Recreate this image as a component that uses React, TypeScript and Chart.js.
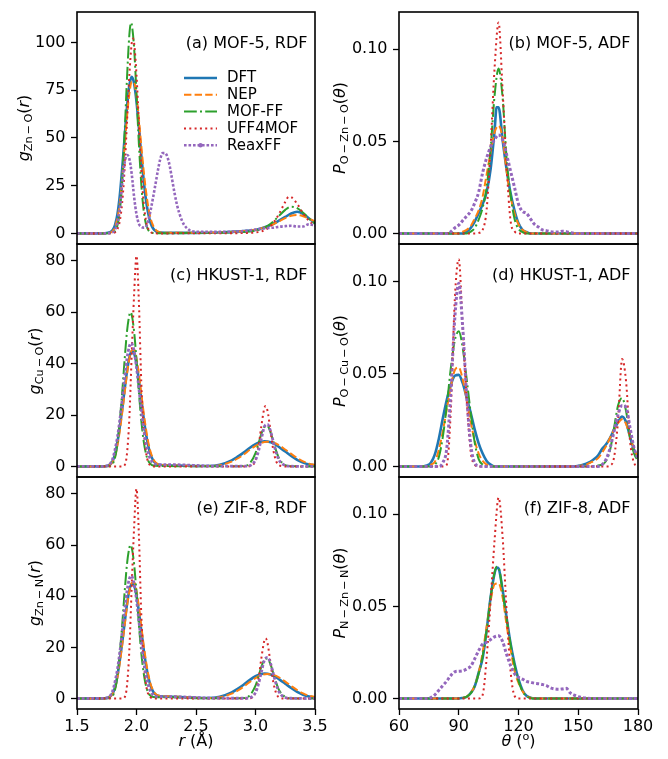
import React, { useEffect, useRef } from "react";
import { Chart, registerables } from "chart.js";

Chart.register(...registerables);

const FONT = '"DejaVu Sans", "Liberation Sans", sans-serif';

const seriesNames = ["DFT", "NEP", "MOF-FF", "UFF4MOF", "ReaxFF"];
const seriesColors = ["#1f77b4", "#ff7f0e", "#2ca02c", "#d62728", "#9467bd"];

type Pt = [number, number];

// ---------- (a) MOF-5 RDF, g_Zn-O(r) ----------
const aDFT: Pt[] = [[1.5,0],[1.7,0],[1.76,0.3],[1.8,1.8],[1.82,4.5],[1.84,10],[1.86,20],[1.88,34],[1.9,50],[1.92,66],[1.94,77.5],[1.96,82],[1.98,78.5],[2.0,69],[2.02,55.5],[2.04,41],[2.06,28],[2.08,17.3],[2.1,10],[2.12,5.2],[2.14,2.6],[2.16,1.3],[2.18,0.7],[2.2,0.4],[2.3,0.3],[2.5,0.3],[2.7,0.5],[2.8,0.8],[2.9,1.2],[3.0,1.8],[3.05,2.7],[3.1,3.7],[3.15,5],[3.2,6.8],[3.25,8.6],[3.3,10.4],[3.35,11.3],[3.4,10.2],[3.45,7.8],[3.5,5.5]];
const aNEP: Pt[] = [[1.5,0],[1.7,0],[1.76,0.2],[1.8,1.2],[1.82,3.5],[1.84,8],[1.86,16],[1.88,29],[1.9,45],[1.92,61],[1.94,73],[1.96,79.5],[1.98,79],[2.0,72],[2.02,60],[2.04,46],[2.06,33],[2.08,22],[2.1,13.5],[2.12,7.5],[2.14,4],[2.16,2],[2.18,0.9],[2.2,0.5],[2.3,0.3],[2.5,0.3],[2.7,0.5],[2.8,0.8],[2.9,1.2],[3.0,1.9],[3.05,2.7],[3.1,3.6],[3.15,4.8],[3.2,6.4],[3.25,8],[3.3,9.2],[3.35,9.6],[3.4,9],[3.45,7.7],[3.5,6.3]];
const aMOFFF: Pt[] = [[1.5,0],[1.7,0],[1.76,0.1],[1.8,0.4],[1.82,1.2],[1.84,4.2],[1.86,11.8],[1.88,27.4],[1.9,52],[1.92,81],[1.94,104],[1.955,110.3],[1.96,109.5],[1.98,97],[2.0,73],[2.02,47],[2.04,26],[2.06,12],[2.08,4.8],[2.1,1.6],[2.12,0.5],[2.14,0.2],[2.2,0.1],[2.5,0.2],[2.7,0.3],[2.8,0.5],[2.9,0.7],[3.0,1.4],[3.05,2.3],[3.1,3.8],[3.15,6.2],[3.2,9.3],[3.25,12.3],[3.3,14],[3.35,13.2],[3.4,10.8],[3.45,7.8],[3.5,5]];
const aUFF4MOF: Pt[] = [[1.5,0],[1.76,0],[1.8,0.15],[1.82,0.6],[1.84,2.2],[1.86,6.6],[1.88,16.3],[1.9,33.6],[1.92,58],[1.94,83],[1.96,99.7],[1.97,102],[1.98,99.7],[2.0,83],[2.02,58],[2.04,33.6],[2.06,16.3],[2.08,6.6],[2.1,2.2],[2.12,0.6],[2.14,0.15],[2.2,0],[2.5,0.05],[2.8,0.1],[2.9,0.2],[3.0,0.5],[3.05,1],[3.1,2.5],[3.15,5.5],[3.2,10.5],[3.25,16.5],[3.28,19.2],[3.3,19],[3.35,15.5],[3.4,10.5],[3.45,6.5],[3.5,4]];
const aReaxFF: Pt[] = [[1.5,0],[1.7,0],[1.76,0.1],[1.8,0.6],[1.82,2],[1.84,6],[1.86,13],[1.88,26],[1.9,37],[1.92,41],[1.94,39],[1.96,31],[1.98,19],[2.0,10],[2.02,5],[2.04,3.5],[2.06,3],[2.08,3.5],[2.1,7],[2.12,12.5],[2.14,19],[2.16,26],[2.18,33],[2.2,39],[2.22,42],[2.24,42],[2.26,40],[2.28,35],[2.3,28],[2.32,21],[2.34,15],[2.36,10.5],[2.38,7],[2.4,4.5],[2.45,1.5],[2.5,0.9],[2.6,0.8],[2.7,0.8],[2.8,0.9],[2.9,1.2],[3.0,2],[3.05,2.4],[3.1,2.8],[3.15,3],[3.2,3.5],[3.25,3.8],[3.3,4],[3.35,3.6],[3.4,3.6],[3.45,4.8],[3.5,4]];

// ---------- (c) HKUST-1 RDF, g_Cu-O(r) ----------
const cDFT: Pt[] = [[1.5,0],[1.7,0.05],[1.76,0.3],[1.8,2.2],[1.82,4.8],[1.84,9.5],[1.86,15.5],[1.88,22.4],[1.9,29.9],[1.92,37],[1.94,42.4],[1.96,44.9],[1.98,44],[2.0,40],[2.02,33.6],[2.04,26.2],[2.06,18.9],[2.08,12.6],[2.1,7.8],[2.12,4.4],[2.14,2.4],[2.16,1.3],[2.18,0.8],[2.2,0.6],[2.3,0.4],[2.4,0.3],[2.5,0.2],[2.6,0.2],[2.7,0.7],[2.8,2.4],[2.85,3.8],[2.9,5.4],[2.95,7.2],[3.0,8.7],[3.05,9.6],[3.075,9.8],[3.1,9.7],[3.15,9.0],[3.2,7.5],[3.25,5.8],[3.3,4.1],[3.35,2.6],[3.4,1.5],[3.45,0.8],[3.5,0.4]];
const cNEP: Pt[] = [[1.5,0],[1.7,0.05],[1.76,0.3],[1.8,1.8],[1.82,4],[1.84,8.2],[1.86,14],[1.88,21],[1.9,28.5],[1.92,36],[1.94,42],[1.96,45.2],[1.98,45.5],[2.0,42],[2.02,36],[2.04,28.5],[2.06,21],[2.08,14.5],[2.1,9.2],[2.12,5.4],[2.14,3],[2.16,1.6],[2.18,0.9],[2.2,0.6],[2.3,0.4],[2.4,0.3],[2.5,0.2],[2.6,0.15],[2.7,0.5],[2.8,1.9],[2.85,3.1],[2.9,4.6],[2.95,6.4],[3.0,8.0],[3.05,9.2],[3.1,9.6],[3.15,9.3],[3.2,8.2],[3.25,6.6],[3.3,4.9],[3.35,3.3],[3.4,2],[3.45,1.1],[3.5,0.6]];
const cMOFFF: Pt[] = [[1.5,0],[1.76,0.1],[1.8,1.0],[1.82,3.5],[1.84,9],[1.86,18],[1.88,29],[1.9,41.4],[1.92,52.5],[1.94,59],[1.95,60],[1.96,59],[1.98,52.5],[2.0,41.4],[2.02,29],[2.04,18],[2.06,10],[2.08,4.9],[2.1,2.1],[2.12,0.9],[2.14,0.4],[2.2,0.2],[2.5,0.1],[2.8,0.1],[2.9,0.2],[2.95,1.1],[3.0,5.2],[3.025,8.9],[3.05,12.8],[3.075,15.5],[3.1,15.8],[3.125,13.5],[3.15,9.7],[3.175,5.9],[3.2,3.0],[3.25,0.5],[3.3,0.1],[3.5,0]];
const cUFF4MOF: Pt[] = [[1.5,0],[1.88,0],[1.9,0.5],[1.92,5],[1.94,19],[1.96,44],[1.98,67],[2.0,82],[2.02,64],[2.04,33],[2.06,15],[2.08,5.5],[2.1,1.5],[2.12,0.4],[2.14,0],[2.9,0],[2.95,0.1],[3.0,2.4],[3.025,7.6],[3.05,16],[3.075,22.8],[3.085,23.5],[3.1,21.9],[3.125,14.3],[3.15,6.3],[3.175,1.9],[3.2,0.4],[3.25,0],[3.5,0]];
const cReaxFF: Pt[] = [[1.5,0],[1.7,0.05],[1.76,0.4],[1.8,3],[1.82,6.7],[1.84,11.5],[1.86,18.1],[1.88,26.1],[1.9,34.6],[1.92,42],[1.94,46.8],[1.955,48],[1.98,44.9],[2.0,38.6],[2.02,30.4],[2.04,22],[2.06,14.6],[2.08,8.9],[2.1,5],[2.12,2.6],[2.14,1.4],[2.16,0.9],[2.2,0.7],[2.3,0.7],[2.4,0.6],[2.5,0.4],[2.6,0.2],[2.8,0.1],[2.9,0.1],[2.95,0.3],[3.0,2.5],[3.025,6],[3.05,11],[3.075,15.5],[3.1,16.4],[3.125,14],[3.15,9.5],[3.175,5.2],[3.2,2.3],[3.25,0.4],[3.3,0.1],[3.5,0]];

// ---------- (e) ZIF-8 RDF, g_Zn-N(r) ----------
const eDFT: Pt[] = [[1.5,0],[1.7,0.05],[1.76,0.3],[1.8,2],[1.82,4.5],[1.84,9],[1.86,15],[1.88,22],[1.9,29.5],[1.92,36.8],[1.94,42.3],[1.96,44.9],[1.98,44.2],[2.0,40.3],[2.02,34],[2.04,26.6],[2.06,19.3],[2.08,13],[2.1,8.2],[2.12,4.8],[2.14,2.7],[2.16,1.6],[2.18,1.1],[2.2,0.9],[2.3,0.7],[2.4,0.5],[2.5,0.3],[2.6,0.2],[2.7,0.7],[2.8,2.4],[2.85,3.8],[2.9,5.4],[2.95,7.2],[3.0,8.7],[3.05,9.6],[3.075,9.8],[3.1,9.7],[3.15,9.0],[3.2,7.5],[3.25,5.8],[3.3,4.1],[3.35,2.6],[3.4,1.5],[3.45,0.8],[3.5,0.4]];
const eNEP: Pt[] = [[1.5,0],[1.7,0.05],[1.76,0.3],[1.8,1.8],[1.82,4],[1.84,8.2],[1.86,14],[1.88,21],[1.9,28.5],[1.92,36],[1.94,42],[1.96,45.2],[1.98,45.5],[2.0,42],[2.02,36],[2.04,28.5],[2.06,21],[2.08,14.5],[2.1,9.2],[2.12,5.4],[2.14,3.1],[2.16,1.8],[2.18,1.2],[2.2,1],[2.3,0.8],[2.4,0.5],[2.5,0.3],[2.6,0.15],[2.7,0.5],[2.8,1.9],[2.85,3.1],[2.9,4.6],[2.95,6.4],[3.0,8.0],[3.05,9.2],[3.1,9.6],[3.15,9.3],[3.2,8.2],[3.25,6.6],[3.3,4.9],[3.35,3.3],[3.4,2],[3.45,1.1],[3.5,0.6]];
const eMOFFF: Pt[] = [[1.5,0],[1.76,0.1],[1.8,1.0],[1.82,3.5],[1.84,9],[1.86,18],[1.88,29],[1.9,41.4],[1.92,52.5],[1.94,59],[1.95,60],[1.96,59],[1.98,52.5],[2.0,41.4],[2.02,29],[2.04,18],[2.06,10],[2.08,4.9],[2.1,2.1],[2.12,1.0],[2.14,0.6],[2.2,0.5],[2.3,0.5],[2.4,0.3],[2.5,0.1],[2.8,0.1],[2.9,0.2],[2.95,1.1],[3.0,5.0],[3.025,8.6],[3.05,12.5],[3.075,15.2],[3.1,15.6],[3.125,13.5],[3.15,9.8],[3.175,6],[3.2,3.1],[3.25,0.6],[3.3,0.1],[3.5,0]];
const eUFF4MOF: Pt[] = [[1.5,0],[1.88,0],[1.9,0.5],[1.92,5],[1.94,19],[1.96,44],[1.98,67],[2.0,82],[2.02,64],[2.04,33],[2.06,15],[2.08,5.5],[2.1,1.5],[2.12,0.4],[2.14,0],[2.9,0],[2.95,0.1],[3.0,2.4],[3.025,7.6],[3.05,16],[3.075,22.8],[3.085,23.5],[3.1,21.9],[3.125,14.3],[3.15,6.3],[3.175,1.9],[3.2,0.4],[3.25,0],[3.5,0]];
const eReaxFF: Pt[] = [[1.5,0],[1.7,0.05],[1.76,0.4],[1.8,3],[1.82,6.7],[1.84,11.5],[1.86,18.1],[1.88,26.1],[1.9,34.6],[1.92,42],[1.94,46.8],[1.955,48],[1.98,44.9],[2.0,38.6],[2.02,30.4],[2.04,22],[2.06,14.6],[2.08,8.9],[2.1,5],[2.12,2.6],[2.14,1.4],[2.16,0.9],[2.2,0.7],[2.3,0.7],[2.4,0.6],[2.5,0.4],[2.6,0.2],[2.8,0.1],[2.9,0.1],[2.95,0.3],[3.0,2.3],[3.025,5.6],[3.05,10.5],[3.075,15],[3.1,16.1],[3.125,14],[3.15,9.6],[3.175,5.4],[3.2,2.4],[3.25,0.4],[3.3,0.1],[3.5,0]];

// ---------- (b) MOF-5 ADF, P_O-Zn-O(theta) ----------
const bDFT: Pt[] = [[60,0],[92,0],[94,0.001],[96,0.003],[98,0.0065],[100,0.011],[102,0.016],[104,0.0225],[106,0.035],[108,0.056],[109,0.0685],[110,0.0685],[112,0.051],[114,0.035],[116,0.022],[118,0.0125],[120,0.0055],[122,0.002],[124,0.0008],[126,0],[180,0]];
const bNEP: Pt[] = [[60,0],[90,0],[92,0.001],[94,0.002],[96,0.004],[98,0.008],[100,0.0125],[102,0.02],[104,0.032],[106,0.044],[108,0.055],[110,0.0585],[112,0.052],[114,0.034],[116,0.02],[118,0.011],[120,0.005],[122,0.002],[124,0.0007],[126,0],[180,0]];
const bMOFFF: Pt[] = [[60,0],[94,0],[96,0.001],[98,0.003],[100,0.0075],[102,0.014],[104,0.025],[106,0.046],[108,0.075],[110,0.0895],[112,0.074],[114,0.041],[116,0.021],[118,0.008],[120,0.0025],[122,0.0008],[124,0],[180,0]];
const bUFF4MOF: Pt[] = [[60,0],[98,0],[100,0.0003],[102,0.002],[104,0.013],[106,0.047],[108,0.09],[110,0.1145],[112,0.078],[114,0.037],[116,0.007],[118,0.0012],[120,0],[180,0]];
const bReaxFF: Pt[] = [[60,0],[84,0],[86,0.001],[88,0.003],[90,0.0045],[92,0.007],[94,0.0095],[96,0.012],[98,0.0165],[100,0.0225],[102,0.033],[104,0.041],[106,0.047],[108,0.051],[110,0.0535],[112,0.051],[114,0.043],[116,0.034],[118,0.025],[120,0.016],[122,0.012],[124,0.011],[126,0.008],[128,0.005],[130,0.0035],[132,0.002],[134,0.0015],[136,0.001],[138,0.0008],[140,0.0008],[142,0.0012],[144,0.001],[146,0.0005],[150,0],[180,0]];

// ---------- (d) HKUST-1 ADF, P_O-Cu-O(theta) ----------
const dDFT: Pt[] = [[60,0],[72,0],[74,0.0005],[76,0.002],[78,0.0065],[80,0.015],[82,0.026],[84,0.036],[86,0.044],[88,0.049],[90,0.0495],[92,0.045],[94,0.037],[96,0.029],[98,0.02],[100,0.0125],[102,0.007],[104,0.003],[106,0.001],[108,0],[148,0],[150,0.0003],[152,0.0008],[154,0.0015],[156,0.0025],[158,0.004],[160,0.006],[162,0.0095],[164,0.012],[166,0.0155],[168,0.02],[170,0.024],[172,0.027],[174,0.024],[176,0.016],[178,0.009],[180,0.005]];
const dNEP: Pt[] = [[60,0],[74,0],[76,0.001],[78,0.0025],[80,0.009],[82,0.019],[84,0.031],[86,0.043],[88,0.052],[90,0.0535],[92,0.047],[94,0.036],[96,0.024],[98,0.014],[100,0.007],[102,0.003],[104,0.001],[106,0],[148,0],[150,0.0002],[152,0.0005],[154,0.001],[156,0.002],[158,0.003],[160,0.0045],[162,0.0075],[164,0.011],[166,0.0155],[168,0.02],[170,0.0235],[172,0.0255],[174,0.023],[176,0.016],[178,0.0095],[180,0.005]];
const dMOFFF: Pt[] = [[60,0],[76,0],[78,0.001],[80,0.005],[82,0.016],[84,0.033],[86,0.053],[88,0.068],[90,0.073],[92,0.064],[94,0.047],[96,0.029],[98,0.013],[100,0.004],[102,0.001],[104,0],[158,0],[160,0.0005],[162,0.001],[164,0.003],[166,0.009],[168,0.021],[170,0.033],[172,0.037],[174,0.03],[176,0.016],[178,0.007],[180,0.003]];
const dUFF4MOF: Pt[] = [[60,0],[82,0],[84,0.001],[86,0.03],[88,0.09],[90,0.112],[92,0.075],[94,0.036],[96,0.008],[98,0.001],[100,0],[164,0],[166,0.0005],[168,0.005],[170,0.025],[172,0.058],[174,0.046],[176,0.014],[178,0.002],[180,0]];
const dReaxFF: Pt[] = [[60,0],[80,0],[82,0.002],[84,0.01],[86,0.04],[88,0.08],[90,0.099],[92,0.075],[94,0.038],[96,0.012],[98,0.002],[100,0.0003],[102,0],[160,0],[162,0.001],[164,0.004],[166,0.01],[168,0.019],[170,0.028],[172,0.033],[174,0.032],[176,0.021],[178,0.01],[180,0.004]];

// ---------- (f) ZIF-8 ADF, P_N-Zn-N(theta) ----------
const fDFT: Pt[] = [[60,0],[90,0],[92,0.0003],[94,0.0008],[96,0.003],[98,0.0065],[100,0.014],[102,0.022],[104,0.037],[106,0.055],[108,0.068],[109,0.071],[110,0.0705],[112,0.059],[114,0.044],[116,0.03],[118,0.019],[120,0.0105],[122,0.0045],[124,0.0015],[126,0.0004],[128,0],[180,0]];
const fNEP: Pt[] = [[60,0],[90,0],[92,0.0003],[94,0.001],[96,0.003],[98,0.007],[100,0.014],[102,0.025],[104,0.039],[106,0.053],[108,0.062],[110,0.0625],[112,0.055],[114,0.04],[116,0.027],[118,0.015],[120,0.0085],[122,0.004],[124,0.0015],[126,0.0005],[128,0],[180,0]];
const fMOFFF: Pt[] = [[60,0],[90,0],[92,0.0003],[94,0.001],[96,0.0028],[98,0.0068],[100,0.0135],[102,0.023],[104,0.037],[106,0.055],[108,0.0685],[109,0.0715],[110,0.071],[112,0.0585],[114,0.0435],[116,0.0295],[118,0.018],[120,0.0095],[122,0.004],[124,0.0013],[126,0.0003],[128,0],[180,0]];
const fUFF4MOF: Pt[] = [[60,0],[100,0],[102,0.002],[104,0.022],[106,0.053],[108,0.086],[110,0.109],[112,0.088],[114,0.048],[116,0.015],[118,0.0015],[120,0],[180,0]];
const fReaxFF: Pt[] = [[60,0],[74,0],[76,0.0005],[78,0.002],[80,0.0045],[82,0.007],[84,0.0095],[86,0.0125],[88,0.0145],[90,0.0148],[92,0.015],[94,0.016],[96,0.0175],[98,0.0215],[100,0.026],[102,0.0295],[104,0.0305],[106,0.032],[108,0.0335],[110,0.034],[112,0.031],[114,0.024],[116,0.018],[118,0.0135],[120,0.0115],[122,0.0105],[124,0.0093],[126,0.0088],[128,0.0083],[130,0.008],[132,0.0076],[134,0.007],[136,0.0058],[138,0.0052],[140,0.005],[142,0.0052],[144,0.0055],[146,0.003],[148,0.0018],[150,0.001],[152,0.0005],[154,0.0002],[156,0],[180,0]];

// ---------- ticks ----------
const rdfXTicks = [1.5, 2.0, 2.5, 3.0, 3.5];
const rdfXTickLabels = ["1.5", "2.0", "2.5", "3.0", "3.5"];
const adfXTicks = [60, 90, 120, 150, 180];
const adfXTickLabels = ["60", "90", "120", "150", "180"];
const mof5RdfYTicks = [0, 25, 50, 75, 100];
const mof5RdfYTickLabels = ["0", "25", "50", "75", "100"];
const rdfYTicks = [0, 20, 40, 60, 80];
const rdfYTickLabels = ["0", "20", "40", "60", "80"];
const adfYTicks = [0, 0.05, 0.1];
const adfYTickLabels = ["0.00", "0.05", "0.10"];

// ---------- layout ----------
const COLS = [
  { canvasLeft: 0, canvasWidth: 334, left: 77, right: 315 },
  { canvasLeft: 334, canvasWidth: 334, left: 399, right: 638 },
];
const ROWS = [
  { top: 12, bottom: 244 },
  { top: 244, bottom: 477 },
  { top: 477, bottom: 709 },
];
const PAD = 18;
const X_AXIS_H = 50;

const seriesStyles = [
  { width: 2.6, dash: [] as number[] },
  { width: 2, dash: [7.4, 3.2] },
  { width: 2, dash: [12.8, 3.2, 2, 3.2] },
  { width: 2, dash: [2, 3.3] },
  { width: 2.6, dash: [2.6, 1.9] },
];

interface PanelSpec {
  key: string;
  col: number;
  row: number;
  series: Pt[][];
  xMin: number; xMax: number; xTicks: number[]; xTickLabels: string[];
  yMin: number; yMax: number; yTicks: number[]; yTickLabels: string[];
  note: string;
  legend: boolean;
  reaxWidth: number;
}

const panels: PanelSpec[] = [
  { key: "a", col: 0, row: 0, series: [aDFT, aNEP, aMOFFF, aUFF4MOF, aReaxFF], xMin: 1.5, xMax: 3.5, xTicks: rdfXTicks, xTickLabels: rdfXTickLabels, yMin: -5.55, yMax: 115.9, yTicks: mof5RdfYTicks, yTickLabels: mof5RdfYTickLabels, note: "(a) MOF-5, RDF", legend: true, reaxWidth: 2.6 },
  { key: "b", col: 1, row: 0, series: [bDFT, bNEP, bMOFFF, bUFF4MOF, bReaxFF], xMin: 60, xMax: 180, xTicks: adfXTicks, xTickLabels: adfXTickLabels, yMin: -0.0057, yMax: 0.1202, yTicks: adfYTicks, yTickLabels: adfYTickLabels, note: "(b) MOF-5, ADF", legend: false, reaxWidth: 3 },
  { key: "c", col: 0, row: 1, series: [cDFT, cNEP, cMOFFF, cUFF4MOF, cReaxFF], xMin: 1.5, xMax: 3.5, xTicks: rdfXTicks, xTickLabels: rdfXTickLabels, yMin: -4.1, yMax: 86.6, yTicks: rdfYTicks, yTickLabels: rdfYTickLabels, note: "(c) HKUST-1, RDF", legend: false, reaxWidth: 2.8 },
  { key: "d", col: 1, row: 1, series: [dDFT, dNEP, dMOFFF, dUFF4MOF, dReaxFF], xMin: 60, xMax: 180, xTicks: adfXTicks, xTickLabels: adfXTickLabels, yMin: -0.0057, yMax: 0.1202, yTicks: adfYTicks, yTickLabels: adfYTickLabels, note: "(d) HKUST-1, ADF", legend: false, reaxWidth: 3 },
  { key: "e", col: 0, row: 2, series: [eDFT, eNEP, eMOFFF, eUFF4MOF, eReaxFF], xMin: 1.5, xMax: 3.5, xTicks: rdfXTicks, xTickLabels: rdfXTickLabels, yMin: -4.1, yMax: 86.6, yTicks: rdfYTicks, yTickLabels: rdfYTickLabels, note: "(e) ZIF-8, RDF", legend: false, reaxWidth: 2.8 },
  { key: "f", col: 1, row: 2, series: [fDFT, fNEP, fMOFFF, fUFF4MOF, fReaxFF], xMin: 60, xMax: 180, xTicks: adfXTicks, xTickLabels: adfXTickLabels, yMin: -0.0057, yMax: 0.1202, yTicks: adfYTicks, yTickLabels: adfYTickLabels, note: "(f) ZIF-8, ADF", legend: false, reaxWidth: 3 },
];

function Panel({ spec }: { spec: PanelSpec }) {
  const ref = useRef<HTMLCanvasElement | null>(null);
  const col = COLS[spec.col];
  const row = ROWS[spec.row];
  const isBottom = spec.row === 2;
  const canvasTop = row.top - PAD;
  const canvasHeight = row.bottom - row.top + PAD + (isBottom ? X_AXIS_H : PAD);
  const yAxisW = col.left - col.canvasLeft;
  const padRight = col.canvasLeft + col.canvasWidth - col.right;

  useEffect(() => {
    const canvas = ref.current;
    if (!canvas) return;
    const tickFont = { family: FONT, size: 16, lineHeight: 1.2 };
    const overlay = {
      id: "overlay_" + spec.key,
      afterDatasetsDraw(chart: any) {
        const ctx = chart.ctx;
        const a = chart.chartArea;
        ctx.save();
        // panel annotation
        ctx.font = `16px ${FONT}`;
        ctx.fillStyle = "#000";
        ctx.textAlign = "right";
        ctx.textBaseline = "alphabetic";
        ctx.fillText(spec.note, a.right - 7.5, a.top + 36.3);
        // legend
        if (spec.legend) {
          const x0 = a.left + 107;
          const x1 = a.left + 140;
          const tx = a.left + 150;
          ctx.font = `15px ${FONT}`;
          ctx.textAlign = "left";
          ctx.textBaseline = "middle";
          for (let i = 0; i < seriesNames.length; i++) {
            const y = a.top + 66 + i * 16.8;
            const st = seriesStyles[i];
            ctx.strokeStyle = seriesColors[i];
            ctx.lineWidth = st.width;
            ctx.lineCap = "butt";
            ctx.setLineDash(st.dash);
            ctx.beginPath();
            ctx.moveTo(x0, y);
            ctx.lineTo(x1, y);
            ctx.stroke();
            ctx.setLineDash([]);
            if (i === 4) {
              ctx.fillStyle = seriesColors[i];
              ctx.beginPath();
              ctx.arc((x0 + x1) / 2, y, 2.2, 0, Math.PI * 2);
              ctx.fill();
            }
            ctx.fillStyle = "#000";
            ctx.fillText(seriesNames[i], tx, y + 0.5);
          }
        }
        // frame
        ctx.setLineDash([]);
        ctx.strokeStyle = "#000";
        ctx.lineWidth = 1.6;
        ctx.strokeRect(a.left, a.top, a.right - a.left, a.bottom - a.top);
        ctx.restore();
      },
    };

    const chart = new Chart(canvas, {
      type: "line",
      data: {
        datasets: spec.series.map((pts, i) => ({
          label: seriesNames[i],
          data: pts.map(([x, y]) => ({ x, y })),
          borderColor: seriesColors[i],
          backgroundColor: seriesColors[i],
          borderWidth: i === 4 ? spec.reaxWidth : seriesStyles[i].width,
          borderDash: i === 4 ? [spec.reaxWidth, spec.reaxWidth * 0.7] : seriesStyles[i].dash,
          borderCapStyle: "butt",
          pointRadius: 0,
          pointHoverRadius: 0,
          fill: false,
          cubicInterpolationMode: "monotone",
          order: 5 - i,
        })),
      },
      options: {
        responsive: false,
        maintainAspectRatio: false,
        animation: false,
        devicePixelRatio: 1,
        events: [],
        layout: {
          autoPadding: false,
          padding: { left: 0, top: PAD, right: padRight, bottom: isBottom ? 0 : PAD },
        },
        plugins: {
          legend: { display: false },
          tooltip: { enabled: false },
          title: { display: false },
        },
        scales: {
          x: {
            type: "linear",
            position: "bottom",
            display: isBottom,
            min: spec.xMin,
            max: spec.xMax,
            afterBuildTicks: (s: any) => {
              s.ticks = spec.xTicks.map((v) => ({ value: v }));
            },
            afterFit: (s: any) => {
              if (isBottom) s.height = X_AXIS_H;
            },
            ticks: {
              autoSkip: false,
              maxRotation: 0,
              minRotation: 0,
              padding: 2.6,
              color: "#000",
              font: tickFont,
              callback: (_v: any, i: number) => spec.xTickLabels[i],
            },
            grid: {
              drawOnChartArea: false,
              drawTicks: true,
              tickLength: 6,
              tickWidth: 1.3,
              tickColor: "#000",
              color: "#000",
            },
            border: { display: false },
          },
          y: {
            type: "linear",
            position: "left",
            min: spec.yMin,
            max: spec.yMax,
            afterBuildTicks: (s: any) => {
              s.ticks = spec.yTicks.map((v) => ({ value: v }));
            },
            afterFit: (s: any) => {
              s.width = yAxisW;
            },
            ticks: {
              autoSkip: false,
              padding: 5.5,
              color: "#000",
              font: tickFont,
              callback: (_v: any, i: number) => spec.yTickLabels[i],
            },
            grid: {
              drawOnChartArea: false,
              drawTicks: true,
              tickLength: 6,
              tickWidth: 1.3,
              tickColor: "#000",
              color: "#000",
            },
            border: { display: false },
          },
        },
      } as any,
      plugins: [overlay],
    } as any);
    return () => chart.destroy();
  }, [spec]);

  return (
    <canvas
      ref={ref}
      width={col.canvasWidth}
      height={canvasHeight}
      style={{ position: "absolute", left: col.canvasLeft, top: canvasTop, width: col.canvasWidth, height: canvasHeight }}
    />
  );
}

const labelBase: React.CSSProperties = {
  position: "absolute",
  fontFamily: FONT,
  fontSize: 16,
  lineHeight: 1,
  whiteSpace: "nowrap",
  color: "#000",
};

function YLabel({ cx, cy, main, sub, arg }: { cx: number; cy: number; main: string; sub: string; arg: string }) {
  return (
    <div style={{ ...labelBase, left: cx, top: cy, transform: "translate(-50%, -50%) rotate(-90deg)" }}>
      <span style={{ fontStyle: "italic" }}>{main}</span>
      <span style={{ fontSize: "0.7em", position: "relative", top: "0.3em" }}>{sub}</span>
      <span>(</span>
      <span style={{ fontStyle: "italic" }}>{arg}</span>
      <span>)</span>
    </div>
  );
}

const yLabels = [
  { cx: 23.5, cy: 128, main: "g", sub: "Zn\u2009\u2212\u2009O", arg: "r" },
  { cx: 35, cy: 360.5, main: "g", sub: "Cu\u2009\u2212\u2009O", arg: "r" },
  { cx: 35, cy: 593, main: "g", sub: "Zn\u2009\u2212\u2009N", arg: "r" },
  { cx: 339.5, cy: 128, main: "P", sub: "O\u2009\u2212\u2009Zn\u2009\u2212\u2009O", arg: "\u03b8" },
  { cx: 339.5, cy: 360.5, main: "P", sub: "O\u2009\u2212\u2009Cu\u2009\u2212\u2009O", arg: "\u03b8" },
  { cx: 339.5, cy: 593, main: "P", sub: "N\u2009\u2212\u2009Zn\u2009\u2212\u2009N", arg: "\u03b8" },
];

export default function App() {
  return (
    <div style={{ position: "absolute", left: 0, top: 0, width: 668, height: 759, background: "#fff", overflow: "hidden" }}>
      {panels.map((p) => (
        <Panel key={p.key} spec={p} />
      ))}
      {yLabels.map((l, i) => (
        <YLabel key={i} {...l} />
      ))}
      <div style={{ ...labelBase, left: 196, top: 732.5, transform: "translateX(-50%)" }}>
        <span style={{ fontStyle: "italic" }}>r</span> (Å)
      </div>
      <div style={{ ...labelBase, left: 518.5, top: 732.5, transform: "translateX(-50%)" }}>
        <span style={{ fontStyle: "italic" }}>{"\u03b8"}</span> (<span style={{ fontSize: "0.7em", position: "relative", top: "-0.45em" }}>o</span>)
      </div>
    </div>
  );
}
